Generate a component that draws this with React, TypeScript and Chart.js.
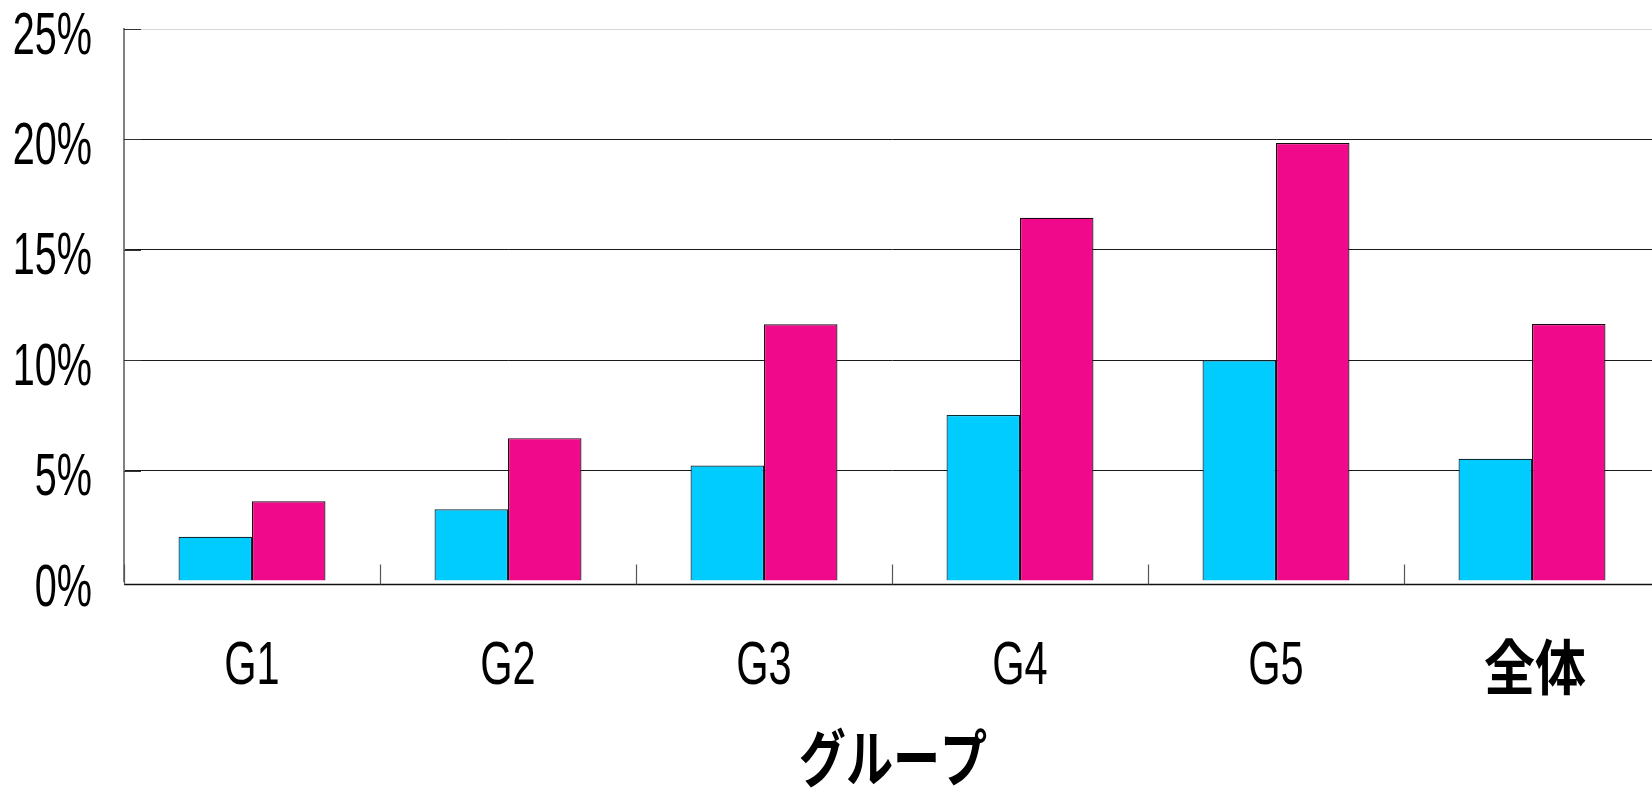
import React, { useEffect, useRef } from "react";
import { Chart, registerables } from "chart.js";

Chart.register(...registerables);

const categories = ["G1", "G2", "G3", "G4", "G5", "全体"];
const seriesA = [2.0, 3.25, 5.23, 7.52, 10.0, 5.54];
const seriesB = [3.61, 6.47, 11.63, 16.45, 19.84, 11.64];
const yTicks = [0, 5, 10, 15, 20, 25];
const axisTitle = "グループ";

const LATIN_FONT = '"Liberation Sans", Arial, sans-serif';
const CJK_FONT = '"Noto Sans CJK JP", "Noto Sans CJK SC", sans-serif';

function drawScaledText(ctx: CanvasRenderingContext2D, text: string, x: number, y: number, sx: number, font: string, align: CanvasTextAlign) {
  ctx.save();
  ctx.font = font;
  ctx.textAlign = align;
  ctx.textBaseline = "middle";
  ctx.fillStyle = "#000";
  ctx.translate(x, y);
  ctx.scale(sx, 1);
  ctx.fillText(text, 0, 0);
  ctx.restore();
}

const isCJK = (s: string) => /[\u3000-\u9fff]/.test(s);

const customPlugin = {
  id: "customDecor",
  afterDraw(chart: any) {
    const ctx: CanvasRenderingContext2D = chart.ctx;
    const xs = chart.scales.x;
    const ys = chart.scales.y;
    const area = chart.chartArea;
    ctx.save();
    // inner ticks on y axis
    ctx.strokeStyle = "#333";
    ctx.lineWidth = 1;
    yTicks.forEach((v) => {
      if (v === 0) return;
      const py = Math.round(ys.getPixelForValue(v)) + 0.5;
      ctx.beginPath();
      ctx.moveTo(area.left, py);
      ctx.lineTo(area.left + 17, py);
      ctx.stroke();
    });
    // x axis line (slightly below zero)
    const zy = Math.round(ys.getPixelForValue(0)) + 3.5;
    ctx.strokeStyle = "#111";
    ctx.lineWidth = 1.5;
    ctx.beginPath();
    ctx.moveTo(area.left, zy);
    ctx.lineTo(chart.width, zy);
    ctx.stroke();
    // category boundary ticks (inside, upward)
    const step = xs.getPixelForValue(1) - xs.getPixelForValue(0);
    ctx.strokeStyle = "#555";
    ctx.lineWidth = 1.2;
    for (let i = 0; i <= categories.length; i++) {
      const px = Math.round(xs.getPixelForValue(0) - step / 2 + i * step) + 0.5;
      ctx.beginPath();
      ctx.moveTo(px, zy);
      ctx.lineTo(px, zy - 20);
      ctx.stroke();
    }
    ctx.restore();

    // y labels
    yTicks.forEach((v) => {
      const py = ys.getPixelForValue(v) + 8;
      drawScaledText(ctx, `${v}%`, 92, py, 0.66, `60px ${LATIN_FONT}`, "right");
    });
    // x labels
    categories.forEach((c, i) => {
      const px = xs.getPixelForValue(i);
      if (isCJK(c)) {
        drawScaledText(ctx, c, px + 3, 667, 0.85, `bold 60px ${CJK_FONT}`, "center");
      } else {
        drawScaledText(ctx, c, px, 667, 0.67, `62px ${LATIN_FONT}`, "center");
      }
    });
    // axis title
    drawScaledText(ctx, axisTitle, 893, 758, 0.76, `bold 62px ${CJK_FONT}`, "center");
  },
};

export default function App() {
  const ref = useRef<HTMLCanvasElement | null>(null);

  useEffect(() => {
    document.body.style.overflow = "hidden";
    const canvas = ref.current;
    if (!canvas) return;
    const chart = new Chart(canvas, {
      type: "bar",
      data: {
        labels: categories,
        datasets: [
          {
            label: "A",
            data: seriesA,
            backgroundColor: "#00CCFF",
            borderColor: "#0a2a35",
            borderWidth: 1.2,
          },
          {
            label: "B",
            data: seriesB,
            backgroundColor: "#F0098A",
            borderColor: "#1a0610",
            borderWidth: 1.2,
          },
        ],
      },
      options: {
        responsive: false,
        animation: false,
        devicePixelRatio: 1,
        layout: { padding: { top: 29, left: 0, right: 0, bottom: 0 } },
        plugins: {
          legend: { display: false },
          tooltip: { enabled: false },
        },
        datasets: {
          bar: { categoryPercentage: 0.574, barPercentage: 1 },
        },
        scales: {
          x: {
            grid: { display: false, drawTicks: false },
            border: { display: false },
            ticks: { display: false },
            afterFit: (s: any) => {
              s.height = 209;
            },
          },
          y: {
            min: 0,
            max: 25,
            ticks: { display: false, stepSize: 5 },
            grid: {
              drawTicks: false,
              color: (c: any) => {
                const v = c.tick ? c.tick.value : 0;
                if (v === 0) return "rgba(0,0,0,0)";
                if (v === 25) return "#d6d6d6";
                return "#1a1a1a";
              },
              lineWidth: 1,
            },
            border: { display: true, color: "#808080", width: 2 },
            afterFit: (s: any) => {
              s.width = 124;
            },
          },
        },
      },
      plugins: [customPlugin],
    });
    return () => chart.destroy();
  }, []);

  return (
    <div style={{ position: "fixed", left: 0, top: 0, width: 1660, height: 790, background: "#fff" }}>
      <canvas ref={ref} width={1660} height={790} style={{ width: 1660, height: 790, display: "block" }} />
    </div>
  );
}
